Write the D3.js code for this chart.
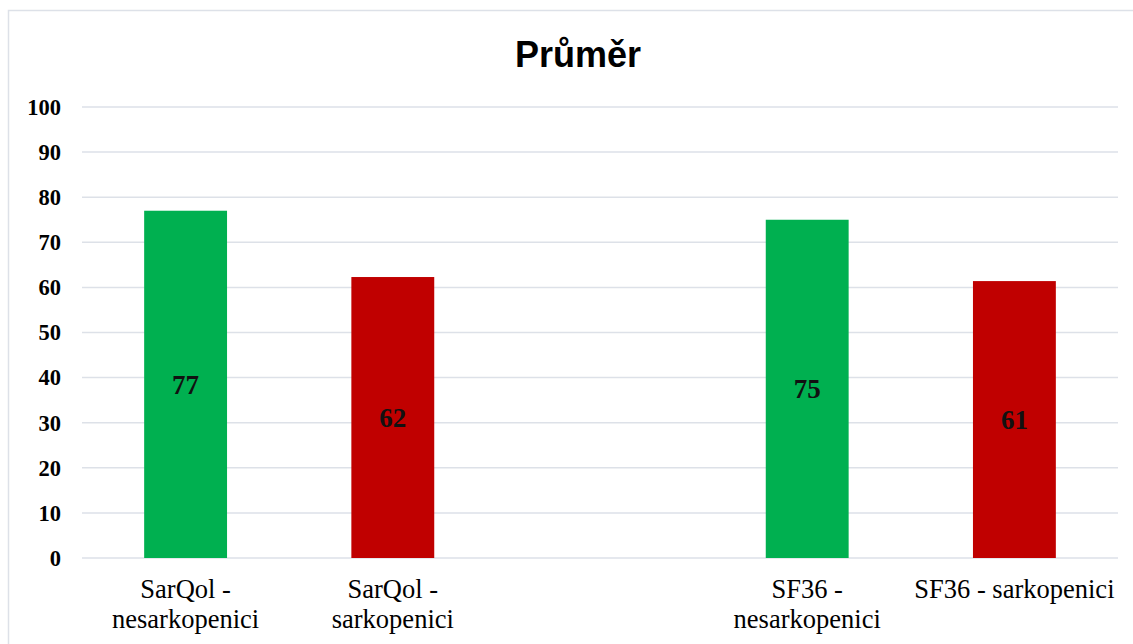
<!DOCTYPE html>
<meta charset="utf-8">
<title>Průměr</title>
<style>
  body { margin: 0; background: #fff; }
  svg { display: block; }
  .grid line { stroke: #dde1e8; stroke-width: 1.5px; }
  .ytick { font-family: 'Liberation Serif', 'Times New Roman', serif; font-weight: bold; font-size: 22.5px; fill: #000; }
  .xlab { font-family: 'Liberation Serif', 'Times New Roman', serif; font-size: 26.5px; fill: #000; }
  .vlab { font-family: 'Liberation Serif', 'Times New Roman', serif; font-weight: bold; font-size: 27px; fill: #111; }
  .title { font-family: 'Liberation Sans', Arial, sans-serif; font-weight: bold; font-size: 36px; fill: #000; }
</style>
<body>
<svg width="1133" height="644"></svg>
<script src="https://cdn.jsdelivr.net/npm/d3@7"></script>
<script>
var categories = ["SarQol - nesarkopenici", "SarQol - sarkopenici", "", "SF36 - nesarkopenici", "SF36 - sarkopenici"];
var values = [77, 62.3, null, 75, 61.4];
var colors = ["#00b050", "#c00000", null, "#00b050", "#c00000"];
var yTicks = [0, 10, 20, 30, 40, 50, 60, 70, 80, 90, 100];

var svg = d3.select("svg");

// chart frame
svg.append("rect")
  .attr("x", 8.5).attr("y", 10.5)
  .attr("width", 1140).attr("height", 650)
  .attr("fill", "none").attr("stroke", "#dde1e8").attr("stroke-width", 1.5);

svg.append("text").attr("class", "title")
  .attr("x", 578).attr("y", 67)
  .attr("text-anchor", "middle")
  .text("Průměr");

var x = d3.scaleBand()
  .domain(d3.range(categories.length))
  .range([82, 1118]);

var y = d3.scaleLinear()
  .domain([0, 100])
  .range([558, 107]);

svg.append("g").attr("class", "grid")
  .selectAll("line")
  .data(yTicks).enter()
  .append("line")
  .attr("x1", 82).attr("x2", 1118)
  .attr("y1", function(d) { return y(d); })
  .attr("y2", function(d) { return y(d); });

svg.append("g")
  .selectAll("text")
  .data(yTicks).enter()
  .append("text").attr("class", "ytick")
  .attr("x", 61)
  .attr("y", function(d) { return y(d); })
  .attr("dy", "0.35em")
  .attr("text-anchor", "end")
  .text(function(d) { return d; });

var bw = x.bandwidth() * 0.4;
var idx = d3.range(categories.length).filter(function(i) { return values[i] != null; });

svg.append("g")
  .selectAll("rect")
  .data(idx).enter()
  .append("rect")
  .attr("x", function(i) { return x(i) + (x.bandwidth() - bw) / 2; })
  .attr("width", bw)
  .attr("y", function(i) { return y(values[i]); })
  .attr("height", function(i) { return y(0) - y(values[i]); })
  .attr("fill", function(i) { return colors[i]; });

svg.append("g")
  .selectAll("text")
  .data(idx).enter()
  .append("text").attr("class", "vlab")
  .attr("x", function(i) { return x(i) + x.bandwidth() / 2; })
  .attr("y", function(i) { return (y(values[i]) + y(0)) / 2; })
  .attr("dy", "0.35em")
  .attr("text-anchor", "middle")
  .text(function(i) { return Math.round(values[i]); });

// category labels, wrapped to the band width
var labs = svg.append("g")
  .selectAll("text")
  .data(idx).enter()
  .append("text").attr("class", "xlab")
  .attr("text-anchor", "middle")
  .attr("x", function(i) { return x(i) + x.bandwidth() / 2; })
  .attr("y", 598);

labs.each(function(i) {
  var t = d3.select(this), cx = x(i) + x.bandwidth() / 2;
  var words = categories[i].split(" "), line = [];
  var ts = t.append("tspan").attr("x", cx).attr("dy", 0);
  words.forEach(function(w) {
    line.push(w);
    ts.text(line.join(" "));
    if (ts.node().getComputedTextLength() > x.bandwidth() - 2 && line.length > 1) {
      line.pop();
      ts.text(line.join(" "));
      line = [w];
      ts = t.append("tspan").attr("x", cx).attr("dy", 30).text(w);
    }
  });
});
</script>
</body>
